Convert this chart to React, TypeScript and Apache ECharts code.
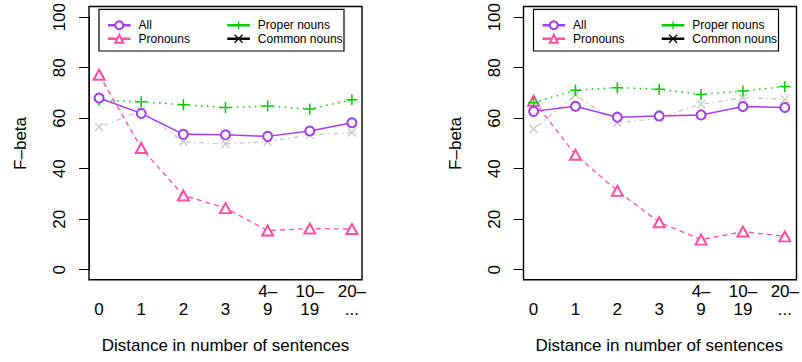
import React, { useEffect, useRef } from 'react';
import * as echarts from 'echarts';

const tickTop = ['', '', '', '', '4–', '10–', '20–'];
const tickBottom = ['0', '1', '2', '3', '9', '19', '...'];
const categories = tickTop.map((t, i) => `${t}\n${tickBottom[i]}`);

const seriesNames = ['All', 'Pronouns', 'Proper nouns', 'Common nouns'];

const leftAll = [68.0, 61.9, 53.6, 53.4, 52.8, 54.9, 58.2];
const leftPronouns = [77.2, 48.2, 29.4, 24.4, 15.5, 16.3, 16.1];
const leftProper = [67.1, 66.5, 65.3, 64.2, 64.8, 63.6, 67.3];
const leftCommon = [56.5, 62.8, 50.6, 49.8, 50.7, 53.4, 54.3];

const rightAll = [62.7, 64.7, 60.4, 60.9, 61.3, 64.6, 64.2];
const rightPronouns = [66.9, 45.5, 31.2, 18.8, 11.9, 15.1, 13.2];
const rightProper = [66.1, 71.1, 72.1, 71.5, 69.4, 70.8, 72.5];
const rightCommon = [55.7, 69.2, 58.2, 60.0, 65.6, 68.1, 67.5];

const xTitle = 'Distance in number of sentences';
const yTitle = 'F–beta';

const FONT = '"Liberation Sans", Arial, Helvetica, sans-serif';
const PURPLE = '#A63CF0';
const PINK = '#FF4FA5';
const GREEN = '#00CC00';
const GREY = '#C8C8C8';

const PLUS = 'path://M5,0L5,10M0,5L10,5';
const CROSS = 'path://M0,0L10,10M10,0L0,10';

const PANEL_SHIFT = 434.5;

function panelSeries(p: number, all: number[], pron: number[], prop: number[], comm: number[]) {
  return [
    {
      name: 'Common nouns', type: 'line', xAxisIndex: p, yAxisIndex: p, data: comm,
      symbol: CROSS, symbolSize: 8,
      itemStyle: { color: 'none', borderColor: GREY, borderWidth: 1.3 },
      lineStyle: { color: GREY, width: 1.3, type: [1.5, 3.5, 5, 3.5] },
      z: 2,
    },
    {
      name: 'Pronouns', type: 'line', xAxisIndex: p, yAxisIndex: p, data: pron,
      symbol: 'emptyTriangle', symbolSize: [11, 10],
      itemStyle: { color: PINK, borderColor: PINK, borderWidth: 1.3 },
      lineStyle: { color: PINK, width: 1.3, type: [5, 4] },
      z: 3,
    },
    {
      name: 'Proper nouns', type: 'line', xAxisIndex: p, yAxisIndex: p, data: prop,
      symbol: PLUS, symbolSize: 11,
      itemStyle: { color: 'none', borderColor: GREEN, borderWidth: 1.5 },
      lineStyle: { color: GREEN, width: 1.5, type: [1.5, 4.5] },
      z: 4,
    },
    {
      name: 'All', type: 'line', xAxisIndex: p, yAxisIndex: p, data: all,
      symbol: 'emptyCircle', symbolSize: 9,
      itemStyle: { color: PURPLE, borderColor: PURPLE, borderWidth: 1.3 },
      lineStyle: { color: PURPLE, width: 1.5, type: 'solid' },
      z: 5,
    },
  ];
}

const legendColors: Record<string, string> = {
  'All': PURPLE,
  'Pronouns': PINK,
  'Proper nouns': GREEN,
  'Common nouns': '#000000',
};

function legendItem(name: string) {
  const c = legendColors[name];
  return {
    name,
    itemStyle: { color: c, borderColor: c, borderWidth: 1.2 },
    lineStyle: { color: c, width: 2.5, type: 'solid' },
  };
}

function legends(dx: number) {
  const common = {
    orient: 'vertical',
    top: 13.5,
    itemWidth: 22.6,
    itemHeight: 10,
    itemGap: 0,
    selectedMode: false,
    textStyle: { fontSize: 12, lineHeight: 13.5, color: '#000', fontFamily: FONT, padding: [0, 0, 0, 3] },
  };
  return [
    { ...common, left: 101.7 + dx, data: [legendItem(seriesNames[0]), legendItem(seriesNames[1])] },
    { ...common, left: 221 + dx, data: [legendItem(seriesNames[2]), legendItem(seriesNames[3])] },
  ];
}

function xAxis(p: number) {
  return {
    gridIndex: p,
    type: 'category',
    data: categories,
    boundaryGap: false,
    axisLine: { show: false },
    axisTick: { show: false },
    splitLine: { show: false },
    axisLabel: { interval: 0, fontSize: 17, lineHeight: 18, color: '#000', margin: 13, fontFamily: FONT },
    name: xTitle,
    nameLocation: 'middle',
    nameGap: 67,
    nameTextStyle: { fontSize: 17, color: '#000', fontFamily: FONT },
  };
}

function yAxis(p: number) {
  return {
    gridIndex: p,
    type: 'value',
    min: 0,
    max: 100,
    interval: 20,
    offset: 10,
    axisLine: { show: true, lineStyle: { color: '#000', width: 1 } },
    axisTick: { show: true, length: 10, lineStyle: { color: '#000', width: 1 } },
    splitLine: { show: false },
    axisLabel: { rotate: 90, fontSize: 17, color: '#000', margin: 21, fontFamily: FONT },
    name: yTitle,
    nameLocation: 'middle',
    nameRotate: 90,
    nameGap: 60,
    nameTextStyle: { fontSize: 17, color: '#000', fontFamily: FONT },
  };
}

function rect(x: number, y: number, w: number, h: number, lw: number) {
  return {
    type: 'rect',
    shape: { x, y, width: w, height: h },
    style: { fill: 'none', stroke: '#000', lineWidth: lw },
    silent: true,
    z: 10,
  };
}

export default function App() {
  const ref = useRef<HTMLDivElement>(null);
  useEffect(() => {
    if (!ref.current) return;
    const chart = echarts.init(ref.current, null, { renderer: 'svg' });
    chart.setOption({
      animation: false,
      backgroundColor: '#fff',
      textStyle: { fontFamily: FONT },
      grid: [
        { left: 99.1, top: 16.7, width: 252.8, height: 253 },
        { left: 99.1 + PANEL_SHIFT, top: 16.7, width: 252.8, height: 253 },
      ],
      xAxis: [xAxis(0), xAxis(1)],
      yAxis: [yAxis(0), yAxis(1)],
      legend: [...legends(0), ...legends(PANEL_SHIFT)],
      series: [
        ...panelSeries(0, leftAll, leftPronouns, leftProper, leftCommon),
        ...panelSeries(1, rightAll, rightPronouns, rightProper, rightCommon),
      ],
      graphic: [
        rect(89, 6.5, 273, 273.3, 1.4),
        rect(89 + PANEL_SHIFT, 6.5, 273, 273.3, 1.4),
        rect(99, 9.3, 245, 41.7, 1.2),
        rect(99 + PANEL_SHIFT, 9.3, 245, 41.7, 1.2),
      ],
    });
    return () => chart.dispose();
  }, []);
  return <div ref={ref} style={{ position: 'absolute', left: 0, top: 0, width: 802, height: 362 }} />;
}
